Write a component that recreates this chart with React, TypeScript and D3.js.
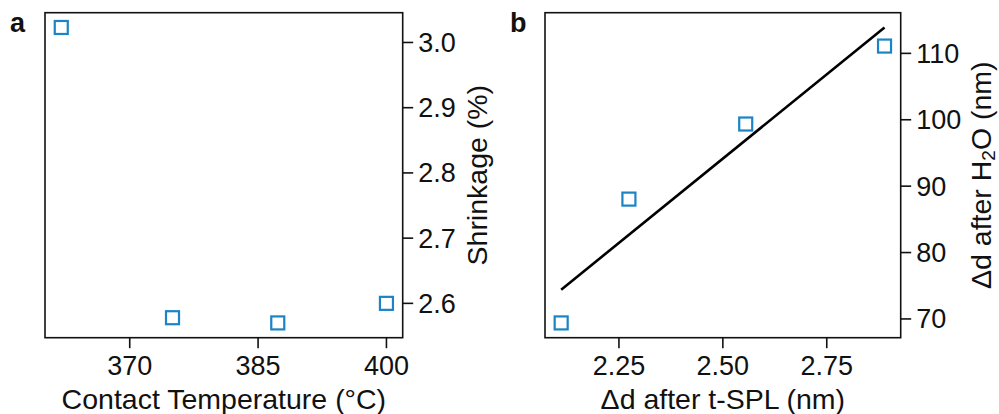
import React from "react";
import * as d3 from "d3";

// Panel a: shrinkage vs contact temperature
const contactTemp = [362, 375, 387.3, 400];
const shrinkage = [3.023, 2.578, 2.57, 2.6];
const tempTicks = [370, 385, 400];
const shrinkTicks = [2.6, 2.7, 2.8, 2.9, 3.0];

// Panel b: Δd after H2O vs Δd after t-SPL, with linear fit
const dSpl = [2.111, 2.274, 2.555, 2.889];
const dWater = [69.4, 88.05, 99.36, 111.1];
const fitX = [2.111, 2.889];
const fitY = [74.4, 113.9];
const splTicks = [2.25, 2.5, 2.75];
const waterTicks = [70, 80, 90, 100, 110];

const FONT = "'Liberation Sans', Arial, Helvetica, sans-serif";
const FS = 27;
const LABEL_FS = 28.5;
const MARKER = "#1a84c5";
const INK = "#111";

const TOP = 12.7;
const BOTTOM = 337.7;

function padded(vals: number[], frac = 0.05): [number, number] {
  const [lo, hi] = d3.extent(vals) as [number, number];
  const p = (hi - lo) * frac;
  return [lo - p, hi + p];
}

type PanelProps = {
  left: number;
  right: number;
  letter: string;
  letterX: number;
  xs: number[];
  ys: number[];
  xDomain: [number, number];
  yDomain: [number, number];
  xTicks: number[];
  yTicks: number[];
  xFmt: (v: number) => string;
  yFmt: (v: number) => string;
  xLabel: React.ReactNode;
  yLabel: React.ReactNode;
  yLabelX: number;
  fit?: { x: number[]; y: number[] };
};

function Panel(p: PanelProps) {
  const x = d3.scaleLinear().domain(p.xDomain).range([p.left, p.right]);
  const y = d3.scaleLinear().domain(p.yDomain).range([BOTTOM, TOP]);
  const tick = 10.5;
  const line = d3
    .line<number>()
    .x((_, i) => x(p.fit!.x[i]))
    .y((d) => y(d));
  return (
    <g fontFamily={FONT} fontSize={FS} fill={INK}>
      <text x={p.letterX} y={32} fontWeight="bold">
        {p.letter}
      </text>
      {p.fit && (
        <path d={line(p.fit.y) || ""} fill="none" stroke="#000" strokeWidth={2.6} />
      )}
      {p.xs.map((v, i) => (
        <rect
          key={i}
          x={x(v) - 6.5}
          y={y(p.ys[i]) - 6.5}
          width={13}
          height={13}
          fill="none"
          stroke={MARKER}
          strokeWidth={2.2}
        />
      ))}
      <rect
        x={p.left}
        y={TOP}
        width={p.right - p.left}
        height={BOTTOM - TOP}
        fill="none"
        stroke={INK}
        strokeWidth={1.6}
      />
      {p.xTicks.map((t) => (
        <g key={t} transform={`translate(${x(t)},0)`}>
          <line y1={BOTTOM} y2={BOTTOM + tick} stroke={INK} strokeWidth={1.6} />
          <text y={375} textAnchor="middle">
            {p.xFmt(t)}
          </text>
        </g>
      ))}
      {p.yTicks.map((t) => (
        <g key={t} transform={`translate(0,${y(t)})`}>
          <line x1={p.right} x2={p.right + tick} stroke={INK} strokeWidth={1.6} />
          <text x={p.right + tick + 5} dy="0.35em">
            {p.yFmt(t)}
          </text>
        </g>
      ))}
      <text x={(p.left + p.right) / 2} y={409} textAnchor="middle" fontSize={LABEL_FS}>
        {p.xLabel}
      </text>
      <text
        transform={`translate(${p.yLabelX},${(TOP + BOTTOM) / 2}) rotate(-90)`}
        textAnchor="middle"
        fontSize={LABEL_FS}
      >
        {p.yLabel}
      </text>
    </g>
  );
}

export default function App() {
  return (
    <svg
      width={999}
      height={414}
      style={{ position: "absolute", left: 0, top: 0, background: "#fff" }}
    >
      <Panel
        left={45}
        right={402.7}
        letter="a"
        letterX={10}
        xs={contactTemp}
        ys={shrinkage}
        xDomain={padded(contactTemp)}
        yDomain={padded(shrinkage)}
        xTicks={tempTicks}
        yTicks={shrinkTicks}
        xFmt={(v) => String(v)}
        yFmt={(v) => v.toFixed(1)}
        xLabel="Contact Temperature (°C)"
        yLabel="Shrinkage (%)"
        yLabelX={487}
      />
      <Panel
        left={545}
        right={900.7}
        letter="b"
        letterX={510}
        xs={dSpl}
        ys={dWater}
        xDomain={padded(dSpl)}
        yDomain={padded([...dWater, ...fitY])}
        xTicks={splTicks}
        yTicks={waterTicks}
        xFmt={(v) => v.toFixed(2)}
        yFmt={(v) => String(v)}
        xLabel="Δd after t-SPL (nm)"
        yLabel={
          <>
            Δd after H
            <tspan fontSize={19} dy={4}>
              2
            </tspan>
            <tspan dy={-4}>O (nm)</tspan>
          </>
        }
        yLabelX={991}
        fit={{ x: fitX, y: fitY }}
      />
    </svg>
  );
}
